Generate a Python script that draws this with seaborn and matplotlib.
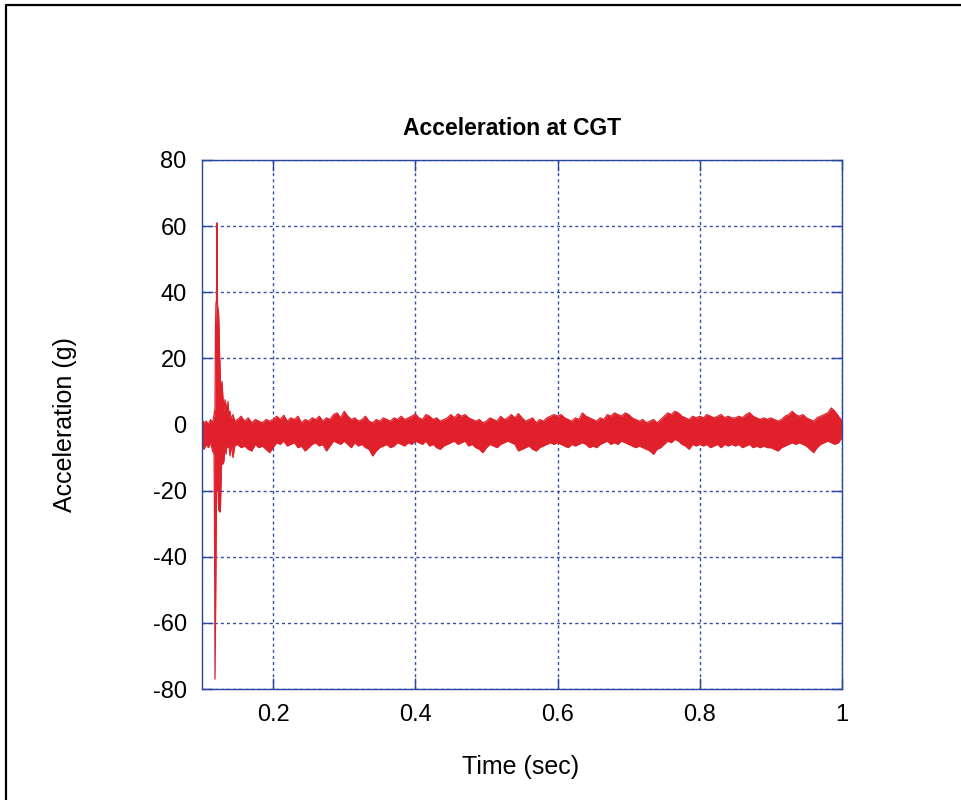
import numpy as np
import pandas as pd
import matplotlib
matplotlib.use("Agg")
import matplotlib.pyplot as plt
from matplotlib.lines import Line2D
import seaborn as sns

# --- DATA ---
# impact region: fine time steps, upper / lower envelope of the signal (g)
t_spike = [0.100, 0.103, 0.106, 0.109, 0.112, 0.115, 0.117, 0.1176, 0.1183, 0.1190,
           0.1197, 0.1204, 0.1211, 0.1218, 0.1225, 0.1232, 0.1239, 0.1246, 0.1253, 0.1260,
           0.1267, 0.1281, 0.1295, 0.1309, 0.1323, 0.1338, 0.1352, 0.1366, 0.1380, 0.1394,
           0.1410, 0.1436, 0.146]
up_spike = [1.5, 0.5, 1.0, 0.0, 1.5, 0.5, 3.0, 4.0, 5.0, 30.0,
            37.0, 37.0, 61.0, 36.0, 35.0, 34.0, 30.0, 22.0, 18.0, 12.0,
            10.0, 13.0, 8.0, 4.0, 7.5, 6.0, 3.0, 7.0, 2.0, 4.0,
            1.5, 3.0, 1.0]
lo_spike = [-6.5, -7.5, -6.0, -7.0, -5.5, -8.0, -9.0, -30.0, -77.0, -60.0,
            -40.0, -20.0, -18.0, -20.0, -15.0, -24.0, -26.0, -22.0, -26.5, -25.0,
            -18.0, -8.0, -12.0, -11.0, -6.0, -9.0, -5.5, -7.0, -6.5, -9.5,
            -6.0, -10.0, -6.5]

# steady part: samples every 5 ms from 0.150 s to 1.000 s
t_band = np.round(np.linspace(0.150, 1.000, 171), 4)
up_band = [
    1.5, 2.5, 1.0, 2.0, 0.5, 1.5, 1.0, 0.5, 1.5, 1.0,
    1.5, 2.5, 1.5, 2.8, 1.0, 2.0, 1.5, 2.5, 0.5, 1.5,
    1.0, 2.0, 1.5, 2.5, 1.0, 2.0, 1.5, 3.0, 3.5, 2.0,
    4.0, 2.5, 1.5, 2.0, 1.0, 1.5, 2.5, 1.0, 0.5, 1.5,
    1.0, 2.0, 1.5, 1.0, 2.0, 1.5, 2.5, 1.5, 2.0, 2.5,
    3.2, 2.0, 1.5, 3.0, 2.5, 1.5, 2.0, 1.0, 1.5, 2.0,
    3.0, 2.0, 3.2, 2.5, 3.0, 2.0, 1.5, 1.0, 1.5, 0.5,
    1.0, 2.0, 1.5, 1.0, 2.5, 1.5, 2.0, 3.0, 2.0, 3.3,
    2.0, 1.0, 1.5, 2.0, 0.5, 1.5, 1.0, 2.0, 2.5, 3.0,
    2.5, 3.0, 2.0, 1.5, 1.0, 2.0, 1.5, 3.5, 2.5, 2.0,
    1.5, 1.0, 2.0, 1.5, 3.0, 2.5, 3.5, 3.0, 2.5, 3.5,
    3.0, 2.0, 1.5, 1.0, 1.5, 0.5, 1.0, 1.5, 0.5, 1.5,
    2.5, 3.5, 3.0, 4.0, 3.5, 2.5, 2.0, 1.5, 2.5, 2.0,
    2.5, 2.0, 3.0, 2.5, 2.0, 2.5, 3.0, 2.0, 2.5, 2.0,
    2.0, 2.5, 2.0, 3.0, 3.6, 2.5, 2.0, 1.5, 2.0, 1.5,
    2.0, 1.5, 1.0, 1.5, 2.5, 3.0, 4.0, 3.0, 2.5, 3.0,
    2.0, 1.5, 1.0, 2.0, 2.5, 3.0, 3.5, 5.0, 4.0, 2.5,
    1.0]
lo_band = [
    -6.0, -7.0, -6.5, -7.5, -8.0, -6.0, -7.0, -6.5, -7.5, -8.5,
    -7.0, -5.5, -6.0, -5.0, -6.5, -6.0, -5.5, -7.0, -6.5, -8.0,
    -7.0, -6.0, -5.5, -6.5, -6.0, -8.0, -6.5, -5.0, -5.5, -6.0,
    -5.0, -6.0, -7.0, -5.5, -6.5, -6.0, -7.0, -7.5, -9.5, -8.0,
    -7.0, -6.5, -6.0, -7.0, -6.5, -5.5, -6.0, -6.5, -5.5, -6.0,
    -5.0, -5.5, -6.0, -5.0, -6.5, -6.0, -7.0, -7.5, -6.5, -6.0,
    -5.5, -5.0, -6.0, -5.5, -5.0, -6.5, -6.0, -7.0, -7.5, -8.5,
    -7.0, -6.0, -6.5, -7.0, -6.0, -5.5, -5.0, -5.5, -6.0, -8.0,
    -7.5, -7.0, -6.5, -7.5, -8.0, -7.0, -6.5, -6.0, -5.5, -6.0,
    -5.5, -6.0, -6.5, -7.0, -6.0, -6.5, -6.0, -5.5, -6.0, -7.0,
    -6.5, -7.0, -6.0, -5.5, -5.0, -6.0, -5.5, -6.0, -5.0, -5.5,
    -6.0, -6.5, -7.0, -6.5, -7.0, -7.5, -8.0, -9.0, -7.5, -7.0,
    -6.0, -5.0, -5.5, -4.5, -5.0, -6.0, -6.5, -7.5, -6.0, -6.5,
    -6.0, -6.5, -6.0, -7.0, -6.5, -6.0, -7.0, -6.0, -6.5, -6.0,
    -6.5, -6.0, -7.0, -6.5, -6.0, -7.0, -6.5, -7.0, -6.5, -7.0,
    -7.0, -7.5, -8.0, -7.0, -6.5, -6.0, -5.5, -6.0, -5.5, -6.0,
    -6.5, -7.5, -8.5, -7.0, -6.0, -5.5, -5.0, -5.5, -6.0, -5.5,
    -4.0]

x_ticks = [0.2, 0.4, 0.6, 0.8, 1.0]
x_tick_labels = ["0.2", "0.4", "0.6", "0.8", "1"]
y_ticks = [-80, -60, -40, -20, 0, 20, 40, 60, 80]

# --- STYLE ---
sns.set_theme(style="white")
plt.rcParams['font.family'] = ['Liberation Sans', 'DejaVu Sans']
plt.rcParams['axes.unicode_minus'] = False
plt.rcParams['text.color'] = 'black'
plt.rcParams['axes.labelcolor'] = 'black'
RED = "#e0202a"
BLUE = "#2846a0"

df = pd.DataFrame({
    "t": np.concatenate([t_spike, t_band]),
    "upper": np.concatenate([up_spike, up_band]),
    "lower": np.concatenate([lo_spike, lo_band]),
})

fig = plt.figure(figsize=(9.61, 8.0), dpi=100)
ax = fig.add_axes([202 / 961, 1 - 689 / 800, 640 / 961, 529 / 800])

ax.fill_between(df["t"], df["lower"], df["upper"], color=RED, linewidth=0)
sns.lineplot(data=df, x="t", y="upper", color=RED, lw=0.9, ax=ax, sort=False)
sns.lineplot(data=df, x="t", y="lower", color=RED, lw=0.9, ax=ax, sort=False)

ax.set_xlim(0.1, 1.0)
ax.set_ylim(-80, 80)
ax.set_xticks(x_ticks)
ax.set_xticklabels(x_tick_labels)
ax.set_yticks(y_ticks)

ax.grid(True, color=BLUE, linestyle=(0, (2.2, 2.2)), linewidth=1.0, alpha=0.95)
for s in ax.spines.values():
    s.set_color(BLUE)
    s.set_linewidth(1.0)
    s.set_visible(True)

ax.tick_params(axis="both", which="both", direction="in", length=8, width=1,
               color=BLUE, top=True, right=True, bottom=True, left=True,
               labelsize=17, labelcolor="black")
ax.tick_params(axis="x", pad=11)
ax.tick_params(axis="y", pad=11)

ax.set_title("Acceleration at CGT", fontsize=16.5, fontweight="bold", pad=18,
             color="black", x=0.484)
ax.set_xlabel("Time (sec)", fontsize=18, va="center")
ax.xaxis.set_label_coords(0.498, -0.147)
ax.set_ylabel("Acceleration (g)", fontsize=18, va="center", ha="center")
ax.yaxis.set_label_coords(-0.214, 0.5)

# outer frame (left and top edges visible)
fig.add_artist(Line2D([5.5 / 961, 5.5 / 961, 1.0], [0.0, 1 - 4.5 / 800, 1 - 4.5 / 800],
                      transform=fig.transFigure, color="black", lw=1.6))

fig.savefig("out.png", dpi=100)
